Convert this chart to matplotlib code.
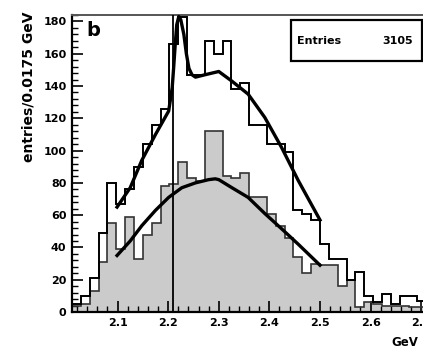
import numpy as np
import matplotlib.pyplot as plt
from matplotlib.patches import Rectangle
from matplotlib.ticker import MultipleLocator

# histogram binning (GeV)
bin_start = 2.01
bin_width = 0.0175

# open histogram (all candidates)
total_counts = [5, 10, 21, 49, 80, 67, 76, 90, 104, 116,
                126, 166, 183, 147, 147, 168, 160, 168, 138, 142,
                116, 116, 104, 104, 99, 63, 61, 57, 42, 33,
                33, 20, 25, 10, 6, 11, 5, 10, 10, 7]
# grey filled histogram
bkg_counts = [4, 5, 13, 31, 55, 39, 59, 33, 48, 55,
              78, 79, 93, 83, 81, 112, 112, 84, 83, 86,
              71, 71, 61, 53, 46, 34, 24, 30, 29, 29,
              16, 20, 3, 6, 5, 4, 4, 4, 3, 3]

# fitted curves
fit_total_x = [2.099, 2.125, 2.148, 2.175, 2.201, 2.208, 2.211, 2.214, 2.217,
               2.221, 2.225, 2.231, 2.236, 2.241, 2.247, 2.254, 2.273, 2.30,
               2.326, 2.358, 2.391, 2.424, 2.457, 2.50]
fit_total_y = [65, 77, 94, 110, 124.5, 139, 152, 166, 178,
               183, 181, 172, 160, 151, 147, 145.5, 147, 149,
               143, 135, 120.5, 102, 81.5, 57]
fit_bkg_x = [2.099, 2.125, 2.148, 2.175, 2.201, 2.227, 2.254, 2.28, 2.293,
             2.30, 2.326, 2.358, 2.391, 2.424, 2.457, 2.50]
fit_bkg_y = [35, 44, 53.5, 63, 71, 77, 80, 82, 82.5,
             82, 77, 71, 61, 51.6, 42, 29]

peak_line = 2.21
n_entries = 3105

edges = bin_start + bin_width * np.arange(len(total_counts) + 1)

W, H = 423, 349
fig = plt.figure(figsize=(W / 100, H / 100), dpi=100)
ax = fig.add_axes([72 / W, 37 / H, 374 / W, 297 / H])

ax.stairs(bkg_counts, edges, fill=True, color='#cbcbcb', zorder=1)
ax.stairs(bkg_counts, edges, color='#333333', lw=1.2, zorder=2)
ax.stairs(total_counts, edges, color='black', lw=1.4, zorder=3)

ax.plot(fit_total_x, fit_total_y, color='black', lw=2.4, zorder=4)
ax.plot(fit_bkg_x, fit_bkg_y, color='black', lw=2.4, zorder=4)
ax.axvline(peak_line, color='black', lw=1.3, zorder=5)

ax.set_xlim(2.01, 2.749)
ax.set_ylim(0, 184)
ax.xaxis.set_major_locator(MultipleLocator(0.1))
ax.xaxis.set_minor_locator(MultipleLocator(0.02))
ax.yaxis.set_major_locator(MultipleLocator(20))
ax.yaxis.set_minor_locator(MultipleLocator(4))
ax.tick_params(which='major', direction='in', length=8, width=1.2,
               labelsize=8, pad=4)
ax.tick_params(which='minor', direction='in', length=4, width=1)
for lab in ax.get_xticklabels() + ax.get_yticklabels():
    lab.set_fontweight('bold')
for side in ['left', 'bottom']:
    ax.spines[side].set_linewidth(1.6)
ax.spines['top'].set_linewidth(1.4)
ax.spines['top'].set_color('#555555')

fig.text(29 / W, 1 - 12 / H, 'entries/0.0175 GeV', rotation=90,
         ha='center', va='top', fontsize=10, fontweight='bold')
fig.text(86 / W, 1 - 30 / H, 'b', fontsize=14, fontweight='bold', va='center')
fig.text(391 / W, 1 - 342 / H, 'GeV', fontsize=8.5, fontweight='bold', va='center')

fig.add_artist(Rectangle((291 / W, 1 - 61 / H), 131 / W, 41 / H,
                         transform=fig.transFigure, fill=True,
                         facecolor='white', edgecolor='black', lw=1.6, zorder=6))
fig.text(297 / W, 1 - 41 / H, 'Entries', fontsize=8, fontweight='bold',
         va='center', zorder=7)
fig.text(413 / W, 1 - 41 / H, str(n_entries), fontsize=8, fontweight='bold',
         va='center', ha='right', zorder=7)

fig.savefig('out.png', dpi=100)
